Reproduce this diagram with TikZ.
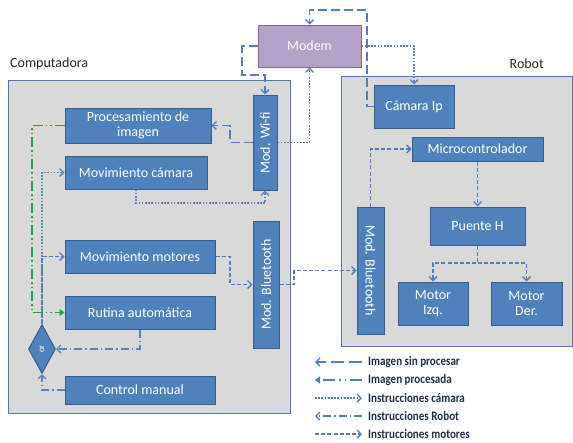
\documentclass[tikz,border=0pt]{standalone}
\usepackage{fontspec}
\setmainfont{Carlito}
\newfontfamily\legendfont[FakeStretch=0.85]{Carlito}
\usetikzlibrary{arrows.meta,shapes.geometric}

\definecolor{boxblue}{HTML}{4F81BD}
\definecolor{boxedge}{HTML}{385D8A}
\definecolor{panelfill}{HTML}{D9D9D9}
\definecolor{paneledge}{HTML}{5478A8}
\definecolor{modemfill}{HTML}{B3A2C7}
\definecolor{modemedge}{HTML}{8064A2}
\definecolor{wire}{HTML}{4F7FBF}
\definecolor{dotwire}{HTML}{5F82B4}
\definecolor{greenwire}{HTML}{1FA33F}
\definecolor{legendtext}{HTML}{1F2E4A}

\tikzset{
  panel/.style={draw=paneledge, fill=panelfill, line width=1pt},
  box/.style={draw=boxedge, fill=boxblue, line width=1pt, inner sep=0pt,
    text=white, font=\fontsize{14}{15}\selectfont, align=center},
  boxlabel/.style={text=white, font=\fontsize{14}{15}\selectfont, inner sep=0pt},
  panellabel/.style={text=black!85, font=\fontsize{14}{15}\selectfont, inner sep=0pt},
  chev/.style={-{Straight Barb[length=4pt,width=8pt,line width=1.4pt]}},
  rawimg/.style={draw=wire, line width=1.8pt, dash pattern=on 9pt off 4pt, chev},
  procimg/.style={draw=greenwire, line width=1.8pt,
    dash pattern=on 10pt off 3pt on 1.5pt off 3pt on 1.5pt off 3pt,
    -{Triangle[length=5pt,width=7pt]}},
  camcmd/.style={draw=dotwire, line width=1.8pt, dash pattern=on 1.7pt off 1.5pt, chev},
  robotcmd/.style={draw=dotwire, line width=1.8pt, dash pattern=on 8pt off 3pt on 1.5pt off 3pt, chev},
  motcmd/.style={draw=wire, line width=1.8pt, dash pattern=on 4pt off 2.2pt, chev},
  legendlabel/.style={text=legendtext, font=\legendfont\bfseries\fontsize{13}{14}\selectfont,
    inner sep=0pt, anchor=west}
}

\begin{document}
\begin{tikzpicture}[x=1pt,y=-1pt]
\useasboundingbox (0,0) rectangle (573,442);

% panels
\draw[panel] (8,80) rectangle (290,413);
\draw[panel] (341,76) rectangle (572.5,346);
\node[panellabel, anchor=west] (complabel) at (10,64) {Computadora};
\node[panellabel, anchor=east] (robotlabel) at (544,64) {Robot};

% modem
\node[draw=modemedge, fill=modemfill, line width=1pt, minimum width=103pt, minimum height=42pt,
  text=white!96!modemfill, font=\fontsize{14}{15}\selectfont] (modem) at (309.5,46) {Modem};

% computer side
\node[box, minimum width=24pt, minimum height=95pt] (wifi) at (265,142.5) {};
\node[boxlabel, rotate=90] (wifitxt) at (wifi.center) {Mod. Wi-fi};
\node[box, minimum width=146pt, minimum height=35pt] (proc) at (138,125.5) {Procesamiento de\\imagen};
\node[box, minimum width=142pt, minimum height=33pt] (movcam) at (136,172.5) {Movimiento cámara};
\node[box, minimum width=150pt, minimum height=33pt] (movmot) at (140,256.5) {Movimiento motores};
\node[box, minimum width=150pt, minimum height=33pt] (rutina) at (140,312.5) {Rutina automática};
\node[box, minimum width=150pt, minimum height=28pt] (control) at (140,390) {Control manual};
\node[box, minimum width=26pt, minimum height=127pt] (btL) at (266,284.5) {};
\node[boxlabel, rotate=90] (btLtxt) at (btL.center) {Mod. Bluetooth};
\node[draw=boxedge, fill=boxblue, line width=1pt, diamond, inner sep=0pt,
  minimum width=27pt, minimum height=49pt] (or) at (42,349) {};
\node[boxlabel, rotate=90, font=\fontsize{9}{10}\selectfont] (ortxt) at (or.center) {or};

% robot side
\node[box, minimum width=80pt, minimum height=43pt] (camip) at (414,106.5) {Cámara Ip};
\node[box, minimum width=131pt, minimum height=24pt] (micro) at (477.5,149) {Microcontrolador};
\node[box, minimum width=95pt, minimum height=38pt] (puente) at (477.5,226) {Puente H};
\node[box, minimum width=70pt, minimum height=43pt] (motI) at (433,303.5) {Motor\\Izq.};
\node[box, minimum width=71pt, minimum height=43pt] (motD) at (526.5,303.5) {Motor\\Der.};
\node[box, minimum width=27pt, minimum height=127pt] (btR) at (370.5,270.5) {};
\node[boxlabel, rotate=-90] (btRtxt) at (btR.center) {Mod. Bluetooth};

% raw image: camera -> modem -> wifi -> processing
\draw[rawimg] (camip.west) -- (367,106.5) -- (367,10) -| (modem.north);
\draw[rawimg] (modem.west) -- (242,46) -- (242,75) -| (wifi.north);
\draw[rawimg] (wifi.west) -- (230,142.5) -- (230,125.5) -- (proc.east);

% processed image -> automatic routine
\draw[procimg] (proc.west) -- (32,125.5) |- (rutina.west);

% camera instructions
\draw[camcmd] (movcam.south) -- (136,203) -| (wifi.south);
\draw[camcmd] (wifi.east) -| (modem.south);
\draw[camcmd] (modem.east) -| (camip.north);
\draw[camcmd] (or.north) |- (movcam.west);

% robot instructions
\draw[robotcmd] (rutina.south) |- (or.east);
\draw[robotcmd] (control.west) -| (or.south);

% motor instructions
\draw[motcmd] (or.north) |- (movmot.west);
\draw[motcmd] (movmot.east) -- (230,256.5) |- (btL.west);
\draw[motcmd] (btL.east) -- (294,284.5) |- (btR.west);
\draw[motcmd] (btR.north) |- (micro.west);
\draw[motcmd] (micro.south) -- (puente.north);
\draw[motcmd] (puente.south) -- (477.5,263) -| (motI.north);
\draw[motcmd] (477.5,263) -| (motD.north);

% legend
\node[legendlabel] (lg1) at (368,362) {Imagen sin procesar};
\node[legendlabel] (lg2) at (368,380) {Imagen procesada};
\node[legendlabel] (lg3) at (368,398) {Instrucciones cámara};
\node[legendlabel] (lg4) at (368,416) {Instrucciones Robot};
\node[legendlabel] (lg5) at (368,434) {Instrucciones motores};
\draw[rawimg, dash pattern=on 13pt off 5pt] ([xshift=-6pt]lg1.west) -- ++(-47,0);
\draw[draw=wire, line width=1.8pt, dash pattern=on 12pt off 4pt on 1.5pt off 4pt on 1.5pt off 4pt,
  -{Triangle[length=5pt,width=7pt]}] ([xshift=-6pt]lg2.west) -- ++(-47,0);
\draw[camcmd, draw=wire] ([xshift=-53pt]lg3.west) -- ++(47,0);
\draw[robotcmd, draw=wire] ([xshift=-6pt]lg4.west) -- ++(-47,0);
\draw[motcmd] ([xshift=-53pt]lg5.west) -- ++(47,0);
\end{tikzpicture}
\end{document}
